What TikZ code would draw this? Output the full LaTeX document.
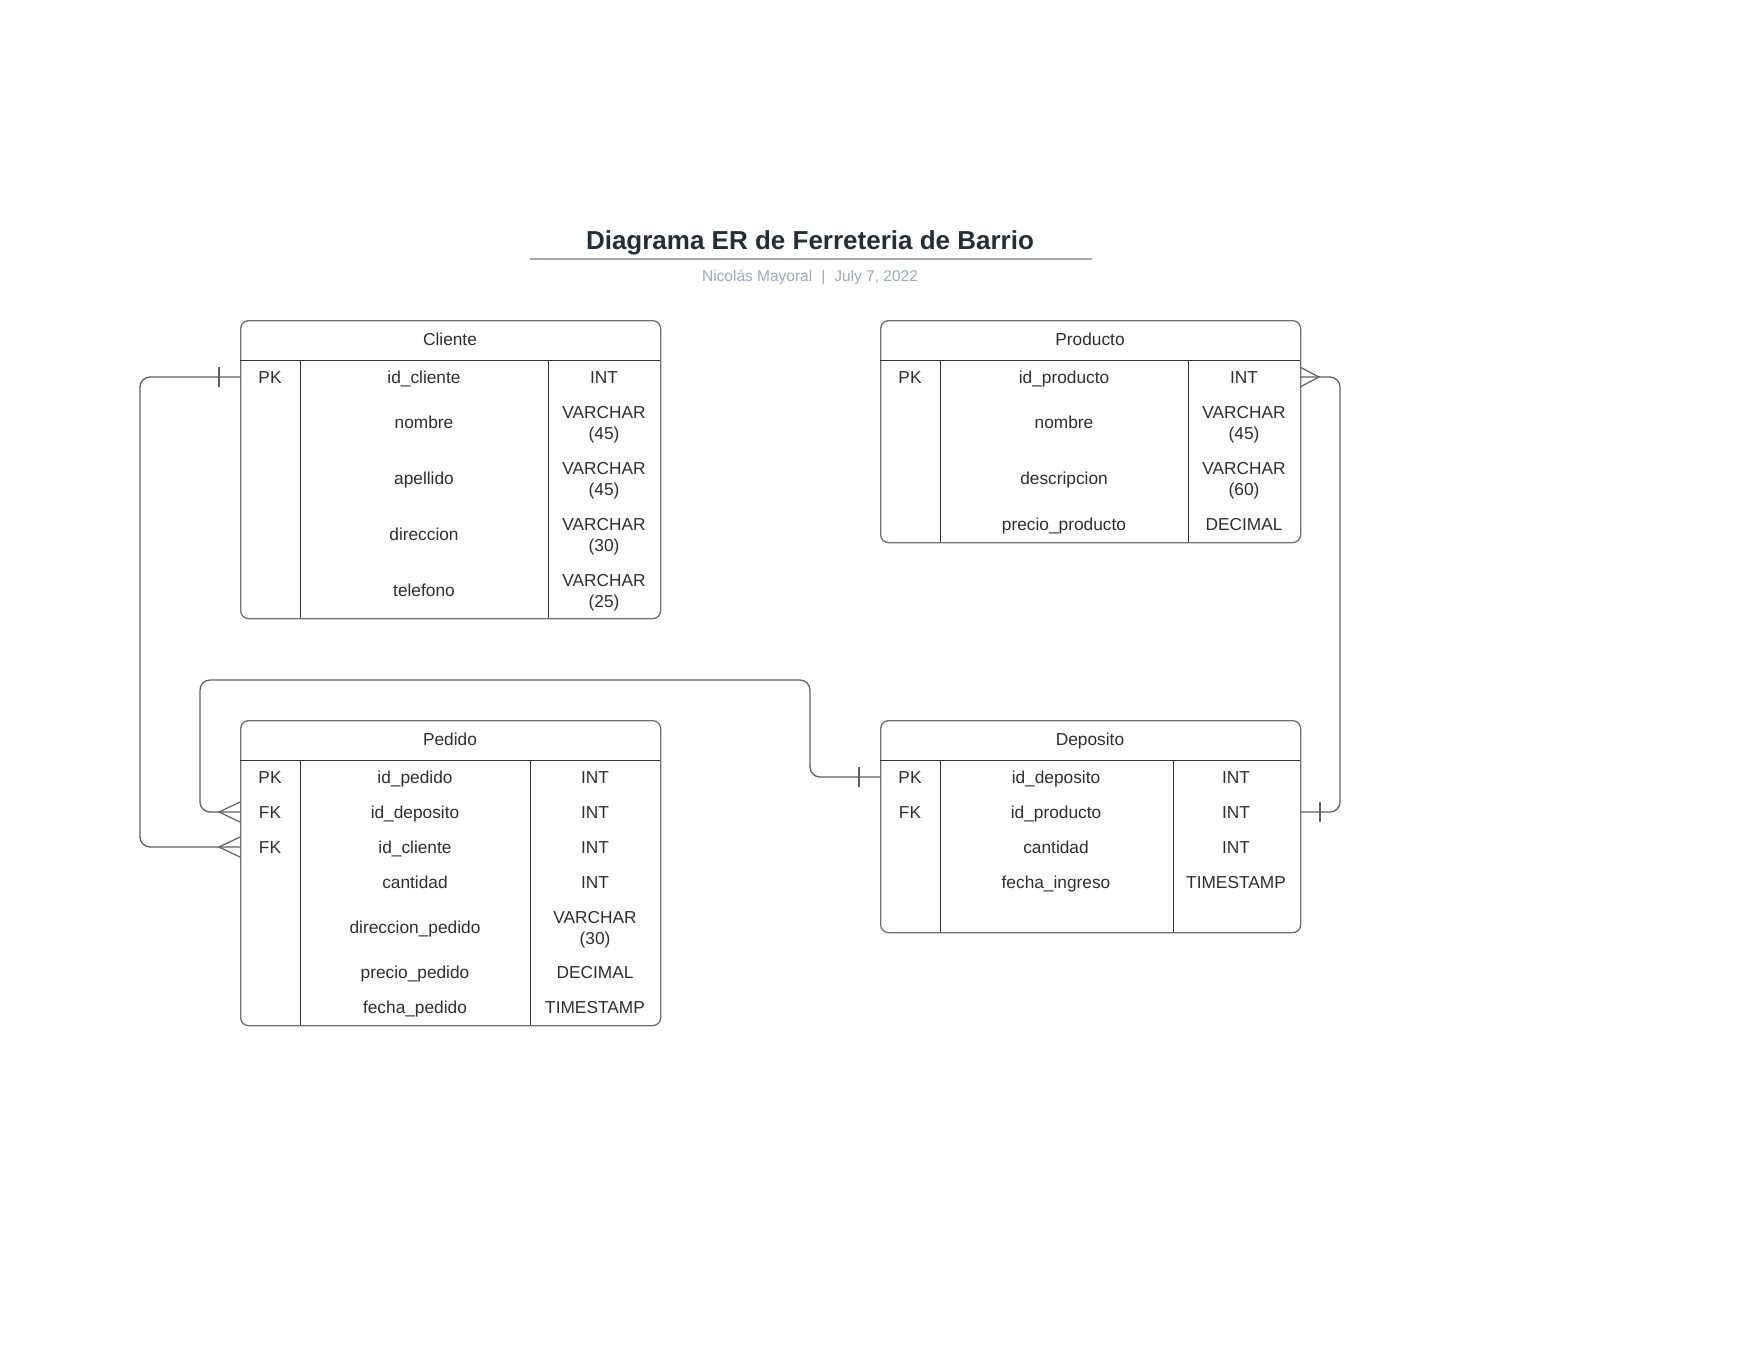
\documentclass[tikz,border=0pt]{standalone}
\usepackage{fontspec}
\setmainfont{Liberation Sans}
\definecolor{tblborder}{HTML}{707070}
\definecolor{innerc}{HTML}{333333}
\definecolor{txt}{HTML}{2E2E2E}
\definecolor{connc}{HTML}{606060}
\definecolor{titlec}{HTML}{282C33}
\definecolor{subc}{HTML}{A3A8B2}
\definecolor{rulec}{HTML}{A4A6B5}
\begin{document}
\begin{tikzpicture}[x=1pt,y=-1pt,
  tbl/.style={draw=tblborder, line width=1.3pt, rounded corners=8pt, anchor=north west, inner sep=0pt},
  inner/.style={draw=innerc, line width=1pt},
  cell/.style={font=\fontsize{17.3}{21}\selectfont, text=txt, align=center, inner sep=0pt, text height=12.4pt, text depth=0pt},
  cell2/.style={font=\fontsize{17.3}{21}\selectfont, text=txt, align=center, inner sep=0pt, yshift=-2.5pt},
  conn/.style={draw=connc, line width=1.3pt, rounded corners=10pt},
  notch/.style={draw=connc, line width=1.2pt}]
\useasboundingbox (0,0) rectangle (1760,1360);

% Title
\node[font=\fontsize{26}{30}\selectfont\bfseries, text=titlec, inner sep=0pt, text height=18.6pt, text depth=0pt] (title) at (810,240) {Diagrama ER de Ferreteria de Barrio};
\draw[rulec, line width=2pt] (530,258.5) -- (1092,258.5);
\node[font=\fontsize{15.5}{18}\selectfont, text=subc, inner sep=0pt, text height=11.1pt, text depth=0pt] (sub) at (810,276) {Nicolás Mayoral\hspace{9pt}|\hspace{9pt}July 7, 2022};

% ---------- Cliente ----------
\node[tbl, minimum width=420pt, minimum height=298pt] (cli) at (240,320) {};
\draw[inner] (240,360) -- (660,360);
\draw[inner] (300,360) -- (300,618);
\draw[inner] (548,360) -- (548,618);
\node[cell] (cliT) at (450,339.5) {Cliente};
\node[cell] (cliK1) at (270,377) {PK};
\node[cell] (cliN1) at (424,377) {id\_cliente};
\node[cell] (cliY1) at (604,377) {INT};
\node[cell] (cliN2) at (424,422) {nombre};
\node[cell2] (cliY2) at (604,422) {VARCHAR\\(45)};
\node[cell] (cliN3) at (424,478) {apellido};
\node[cell2] (cliY3) at (604,478) {VARCHAR\\(45)};
\node[cell] (cliN4) at (424,534) {direccion};
\node[cell2] (cliY4) at (604,534) {VARCHAR\\(30)};
\node[cell] (cliN5) at (424,590) {telefono};
\node[cell2] (cliY5) at (604,590) {VARCHAR\\(25)};

% ---------- Producto ----------
\node[tbl, minimum width=420pt, minimum height=222pt] (pro) at (880,320) {};
\draw[inner] (880,360) -- (1300,360);
\draw[inner] (940,360) -- (940,542);
\draw[inner] (1188,360) -- (1188,542);
\node[cell] (proT) at (1090,339.5) {Producto};
\node[cell] (proK1) at (910,377) {PK};
\node[cell] (proN1) at (1064,377) {id\_producto};
\node[cell] (proY1) at (1244,377) {INT};
\node[cell] (proN2) at (1064,422) {nombre};
\node[cell2] (proY2) at (1244,422) {VARCHAR\\(45)};
\node[cell] (proN3) at (1064,478) {descripcion};
\node[cell2] (proY3) at (1244,478) {VARCHAR\\(60)};
\node[cell] (proN4) at (1064,524) {precio\_producto};
\node[cell] (proY4) at (1244,524) {DECIMAL};

% ---------- Pedido ----------
\node[tbl, minimum width=420pt, minimum height=305pt] (ped) at (240,720) {};
\draw[inner] (240,760) -- (660,760);
\draw[inner] (300,760) -- (300,1025);
\draw[inner] (530,760) -- (530,1025);
\node[cell] (pedT) at (450,739.5) {Pedido};
\node[cell] (pedK1) at (270,777) {PK};
\node[cell] (pedN1) at (415,777) {id\_pedido};
\node[cell] (pedY1) at (595,777) {INT};
\node[cell] (pedK2) at (270,812) {FK};
\node[cell] (pedN2) at (415,812) {id\_deposito};
\node[cell] (pedY2) at (595,812) {INT};
\node[cell] (pedK3) at (270,847) {FK};
\node[cell] (pedN3) at (415,847) {id\_cliente};
\node[cell] (pedY3) at (595,847) {INT};
\node[cell] (pedN4) at (415,882) {cantidad};
\node[cell] (pedY4) at (595,882) {INT};
\node[cell] (pedN5) at (415,927) {direccion\_pedido};
\node[cell2] (pedY5) at (595,927) {VARCHAR\\(30)};
\node[cell] (pedN6) at (415,972) {precio\_pedido};
\node[cell] (pedY6) at (595,972) {DECIMAL};
\node[cell] (pedN7) at (415,1007) {fecha\_pedido};
\node[cell] (pedY7) at (595,1007) {TIMESTAMP};

% ---------- Deposito ----------
\node[tbl, minimum width=420pt, minimum height=212pt] (dep) at (880,720) {};
\draw[inner] (880,760) -- (1300,760);
\draw[inner] (940,760) -- (940,932);
\draw[inner] (1173,760) -- (1173,932);
\node[cell] (depT) at (1090,739.5) {Deposito};
\node[cell] (depK1) at (910,777) {PK};
\node[cell] (depN1) at (1056,777) {id\_deposito};
\node[cell] (depY1) at (1236,777) {INT};
\node[cell] (depK2) at (910,812) {FK};
\node[cell] (depN2) at (1056,812) {id\_producto};
\node[cell] (depY2) at (1236,812) {INT};
\node[cell] (depN3) at (1056,847) {cantidad};
\node[cell] (depY3) at (1236,847) {INT};
\node[cell] (depN4) at (1056,882) {fecha\_ingreso};
\node[cell] (depY4) at (1236,882) {TIMESTAMP};

% ---------- connector anchors ----------
\coordinate (aCliPK) at (240,377);
\coordinate (aPedFK1) at (240,812);
\coordinate (aPedFK2) at (240,847);
\coordinate (aDepPK) at (880,777);
\coordinate (aDepFK) at (1300,812);
\coordinate (aProPK) at (1300,377);
\coordinate (bendL) at (140,377);
\coordinate (bendM) at (200,680);
\coordinate (bendD) at (810,680);
\coordinate (bendR) at (1340,377);

% Cliente (one) -> Pedido (many)
\draw[conn] (aCliPK) -- (bendL) -- (bendL |- aPedFK2) -- (aPedFK2);
\draw[notch] (aCliPK) ++(-21,-10) -- ++(0,20);
\draw[notch] (aPedFK2) ++(0,-10) -- ++(-21,10) -- ++(21,10);

% Deposito (one) -> Pedido (many)
\draw[conn] (aDepPK) -- (bendD |- aDepPK) -- (bendD) -- (bendM) -- (bendM |- aPedFK1) -- (aPedFK1);
\draw[notch] (aDepPK) ++(-21,-10) -- ++(0,20);
\draw[notch] (aPedFK1) ++(0,-10) -- ++(-21,10) -- ++(21,10);

% Producto (many) <- Deposito (one)
\draw[conn] (aProPK) -- (bendR) -- (bendR |- aDepFK) -- (aDepFK);
\draw[notch] (aProPK) ++(0,-10) -- ++(19,10) -- ++(-19,10);
\draw[notch] (aDepFK) ++(20,-10) -- ++(0,20);
\end{tikzpicture}
\end{document}
